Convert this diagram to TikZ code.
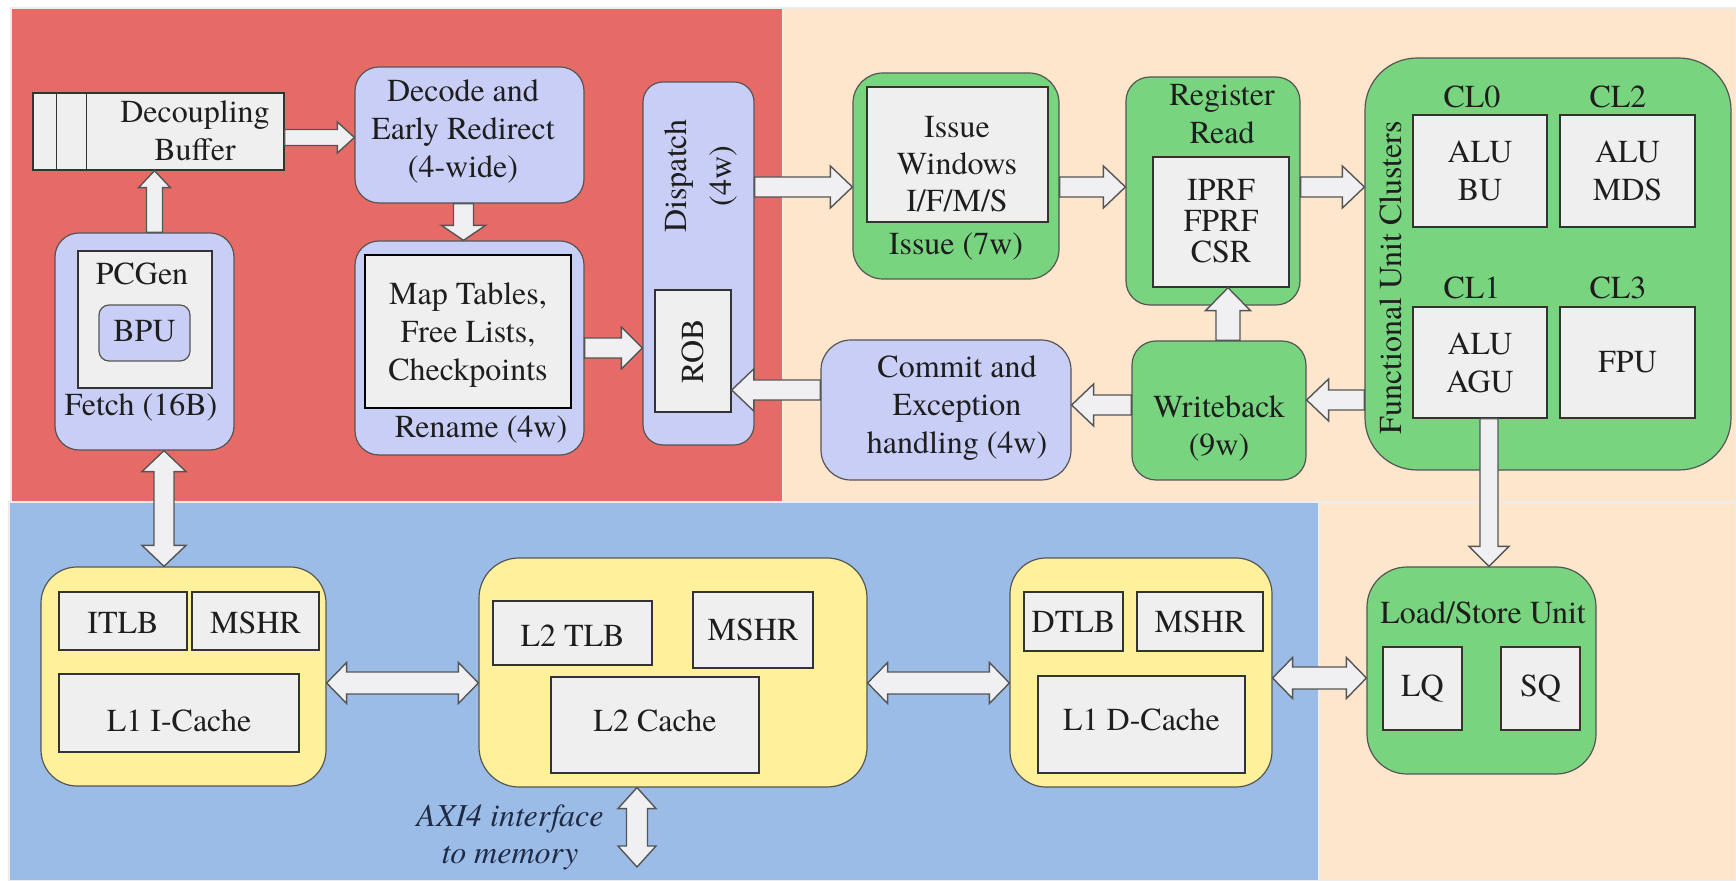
\documentclass[tikz,border=0pt]{standalone}
\usepackage{fontspec}
\IfFontExistsTF{texgyretermes-regular.otf}
  {\setmainfont{texgyretermes}[Extension=.otf, UprightFont=*-regular,
     BoldFont=*-bold, ItalicFont=*-italic, BoldItalicFont=*-bolditalic]}
  {\setmainfont{Liberation Serif}}
\usetikzlibrary{calc,fit}

\definecolor{redbg}{HTML}{E66A65}
\definecolor{peachbg}{HTML}{FDE6CC}
\definecolor{bluebg}{HTML}{9BBCE6}
\definecolor{yellowbox}{HTML}{FFF09C}
\definecolor{greenbox}{HTML}{78D47E}
\definecolor{lavbox}{HTML}{C9CEF6}
\definecolor{grayfill}{HTML}{EFEFEF}
\definecolor{arrowfill}{HTML}{F0F0F2}
\definecolor{edge}{HTML}{555555}
\definecolor{txt}{HTML}{1E1E1E}
\definecolor{axitxt}{HTML}{1F2A44}

% block arrow: [opts]{from}{to}{half shaft}{half head}{head length}
\newcommand\barrow[6][]{%
  \coordinate (ba-s) at (#2);
  \coordinate (ba-e) at (#3);
  \coordinate (ba-c) at ($(ba-e)!#6!(ba-s)$);
  \draw[blockarrow,#1] ($(ba-s)!#4!90:(ba-e)$) -- ($(ba-c)!#4!90:(ba-e)$)
    -- ($(ba-c)!#5!90:(ba-e)$) -- (ba-e) -- ($(ba-c)!#5!-90:(ba-e)$)
    -- ($(ba-c)!#4!-90:(ba-e)$) -- ($(ba-s)!#4!-90:(ba-e)$) -- cycle;
}
% double-headed block arrow
\newcommand\dbarrow[6][]{%
  \coordinate (ba-s) at (#2);
  \coordinate (ba-e) at (#3);
  \coordinate (ba-c) at ($(ba-s)!#6!(ba-e)$);
  \coordinate (ba-d) at ($(ba-e)!#6!(ba-s)$);
  \draw[blockarrow,#1] (ba-s) -- ($(ba-c)!#5!90:(ba-e)$) -- ($(ba-c)!#4!90:(ba-e)$)
    -- ($(ba-d)!#4!90:(ba-e)$) -- ($(ba-d)!#5!90:(ba-e)$) -- (ba-e)
    -- ($(ba-d)!#5!-90:(ba-e)$) -- ($(ba-d)!#4!-90:(ba-e)$)
    -- ($(ba-c)!#4!-90:(ba-e)$) -- ($(ba-c)!#5!-90:(ba-e)$) -- cycle;
}

\tikzset{
  every node/.append style={font=\rmfamily\fontsize{16}{19}\selectfont, text=txt, align=center},
  region/.style={draw=white!85!gray, line width=0.8pt},
  stagebox/.style={draw=edge, line width=0.6pt, inner sep=0pt, rounded corners=12pt},
  lavstage/.style={stagebox, fill=lavbox},
  greenstage/.style={stagebox, fill=greenbox},
  cachebox/.style={stagebox, fill=yellowbox, rounded corners=18pt},
  graybox/.style={draw=black!80, line width=0.7pt, fill=grayfill, inner sep=0pt},
  blockarrow/.style={fill=arrowfill, draw=edge, line width=0.7pt, line join=miter},
}

\begin{document}
\begin{tikzpicture}[x=0.5pt, y=-0.5pt]
\useasboundingbox (0,0) rectangle (1736,881);
\fill[white] (0,0) rectangle (1736,881);

% background regions
\filldraw[region, fill=peachbg] (783,8) rectangle (1736,502);
\filldraw[region, fill=peachbg] (1319,502) rectangle (1736,881);
\filldraw[region, fill=bluebg] (9,502) rectangle (1319,881);
\filldraw[region, fill=redbg] (11,8) rectangle (783,502);

% ---------- front end ----------
\node[lavstage, fit={(55,233) (234,450)}] (fetch) {};
\node[graybox, fit={(78,251) (212,388)}] (pcgen) {};
\node at (142,274) {PCGen};
\node[lavstage, rounded corners=5pt, draw=edge, fit={(99,305) (190,361)}] (bpu) {};
\node at ([yshift=1pt]bpu.center) {BPU};
\node at (141,407) {Fetch (16B)};

\node[graybox, fit={(33,93) (284,170)}] (buf) {};
\draw[black!80, line width=0.7pt] ([xshift=12pt]buf.north west) -- ([xshift=12pt]buf.south west);
\draw[black!80, line width=0.7pt] ([xshift=27pt]buf.north west) -- ([xshift=27pt]buf.south west);
\node at (195,131) {Decoupling\\Buffer};

\node[lavstage, fit={(355,67) (584,203)}] (dec) {};
\node at (463,131) {Decode and\\Early Redirect\\(4-wide)};

\node[lavstage, fit={(355,241) (584,455)}] (ren) {};
\node[graybox, draw=black, line width=1pt, fit={(365,255) (571,408)}] (maps) {};
\node at ([yshift=-2pt]maps.center) {Map Tables,\\Free Lists,\\Checkpoints};
\node at (481,430) {Rename (4w)};

\node[lavstage, rounded corners=10pt, fit={(643,82) (754,445)}] (disp) {};
\node[rotate=90, font=\rmfamily\fontsize{16}{22.5}\selectfont] at (701,176) {Dispatch\\(4w)};
\node[graybox, fit={(655,290) (731,412)}] (rob) {};
\node[rotate=90] at (rob.center) {ROB};

% ---------- execution ----------
\node[greenstage, rounded corners=15pt, fit={(853,73) (1059,279)}] (issue) {};
\node[graybox, fit={(867,87) (1048,222)}] (iwin) {};
\node[font=\rmfamily\fontsize{16}{18.5}\selectfont] at (957,164) {Issue\\Windows\\I/F/M/S};
\node at (956,247) {Issue (7w)};

\node[greenstage, fit={(1126,77) (1300,305)}] (rr) {};
\node at (1222,114) {Register\\Read};
\node[graybox, fit={(1153,157) (1289,287)}] (prf) {};
\node[font=\rmfamily\fontsize{16}{15.5}\selectfont] at (1221,221) {IPRF\\FPRF\\CSR};

\node[greenstage, rounded corners=26pt, fit={(1365,58) (1731,470)}] (fu) {};
\node[rotate=90] at (1391,278) {Functional Unit Clusters};
\node at (1472,97) {CL0};
\node at (1618,97) {CL2};
\node at (1472,288) {CL1};
\node at (1618,288) {CL3};
\node[graybox, fit={(1413,115) (1547,227)}] (bu) {};
\node at (bu.center) {ALU\\BU};
\node[graybox, fit={(1560,115) (1695,227)}] (mds) {};
\node at (mds.center) {ALU\\MDS};
\node[graybox, fit={(1413,307) (1547,418)}] (agu) {};
\node at (agu.center) {ALU\\AGU};
\node[graybox, fit={(1560,307) (1695,418)}] (fpu) {};
\node at (fpu.center) {FPU};

\node[greenstage, fit={(1132,341) (1306,480)}] (wb) {};
\node at (1219,428) {Writeback\\(9w)};

\node[lavstage, rounded corners=15pt, fit={(821,340) (1071,480)}] (commit) {};
\node at (957,408) {Commit and\\Exception\\handling (4w)};

% ---------- memory system ----------
\node[cachebox, fit={(41,567) (326,786)}] (ci) {};
\node[graybox, fit={(59,592) (187,650)}] (itlb) {};
\node at ([yshift=-1pt]itlb.center) {ITLB};
\node[graybox, fit={(192,592) (319,650)}] (imshr) {};
\node at ([yshift=-1pt]imshr.center) {MSHR};
\node[graybox, fit={(59,674) (299,752)}] (l1i) {};
\node at ([yshift=-4pt]l1i.center) {L1 I-Cache};

\node[cachebox, rounded corners=20pt, fit={(479,558) (867,787)}] (cl2) {};
\node[graybox, fit={(493,601) (652,665)}] (l2tlb) {};
\node at ([yshift=-1.5pt]l2tlb.center) {L2 TLB};
\node[graybox, fit={(693,592) (813,668)}] (l2mshr) {};
\node at (l2mshr.center) {MSHR};
\node[graybox, fit={(551,677) (759,773)}] (l2c) {};
\node at ([yshift=2pt]l2c.center) {L2 Cache};

\node[cachebox, fit={(1010,558) (1272,787)}] (cd) {};
\node[graybox, fit={(1024,592) (1123,651)}] (dtlb) {};
\node at (dtlb.center) {DTLB};
\node[graybox, fit={(1137,592) (1263,651)}] (dmshr) {};
\node at (dmshr.center) {MSHR};
\node[graybox, fit={(1038,676) (1245,773)}] (l1d) {};
\node at ([yshift=2.5pt]l1d.center) {L1 D-Cache};

\node[greenstage, rounded corners=20pt, fit={(1367,567) (1596,774)}] (lsu) {};
\node at (1483,613) {Load/Store Unit};
\node[graybox, fit={(1383,647) (1462,730)}] (lq) {};
\node at (lq.center) {LQ};
\node[graybox, fit={(1501,647) (1580,730)}] (sq) {};
\node at (sq.center) {SQ};

\node[font=\rmfamily\itshape\fontsize{16}{18.5}\selectfont, text=axitxt] at (510,837) {AXI4 interface\\to memory};

% ---------- connectors ----------
\coordinate (row1) at (0,187);
\coordinate (row2) at (0,400);
\coordinate (row3) at (0,405);
\coordinate (row4) at (0,390);
\coordinate (row5) at (0,683);
\coordinate (row6) at (0,678);
\coordinate (colf) at (164,0);
\coordinate (colw) at (1228,0);
\coordinate (cola) at (1489,0);
\coordinate (colm) at (637,0);
\coordinate (mem) at (637,867);

\coordinate (fb1) at ([xshift=5pt]fetch.north);
\barrow{fb1}{fb1 |- buf.south}{4pt}{8pt}{8.5pt}
\coordinate (bd1) at ([yshift=-3pt]buf.east);
\barrow{bd1}{bd1 -| dec.west}{4pt}{7.75pt}{8.5pt}
\coordinate (dr1) at ([xshift=-3pt]dec.south);
\barrow{dr1}{dr1 |- ren.north}{5pt}{11pt}{7.5pt}
\barrow{ren.east}{ren.east -| disp.west}{5pt}{10.5pt}{10.5pt}
\barrow{disp.east |- row1}{issue.west |- row1}{5pt}{10.5pt}{11pt}
\barrow{issue.east |- row1}{rr.west |- row1}{5pt}{10.5pt}{11pt}
\barrow{rr.east |- row1}{fu.west |- row1}{5pt}{10.5pt}{11pt}
\barrow{fu.west |- row2}{wb.east |- row2}{5pt}{10.5pt}{11pt}
\barrow{colw |- wb.north}{colw |- prf.south}{6pt}{11.25pt}{11.5pt}
\barrow{wb.west |- row3}{commit.east |- row3}{5pt}{10.5pt}{11pt}
\barrow{commit.west |- row4}{rob.east |- row4}{5pt}{10.5pt}{11pt}
\barrow{cola |- agu.south}{cola |- lsu.north}{4.5pt}{10pt}{10pt}

\dbarrow{colf |- fetch.south}{colf |- ci.north}{5pt}{11pt}{10.5pt}
\dbarrow{ci.east |- row5}{cl2.west |- row5}{5.5pt}{10.25pt}{10pt}
\dbarrow{cl2.east |- row5}{cd.west |- row5}{5.5pt}{10.25pt}{10pt}
\dbarrow{cd.east |- row6}{lsu.west |- row6}{5.5pt}{10.25pt}{10pt}
\dbarrow{colm |- cl2.south}{mem}{5.25pt}{9.5pt}{10.5pt}
\end{tikzpicture}
\end{document}
